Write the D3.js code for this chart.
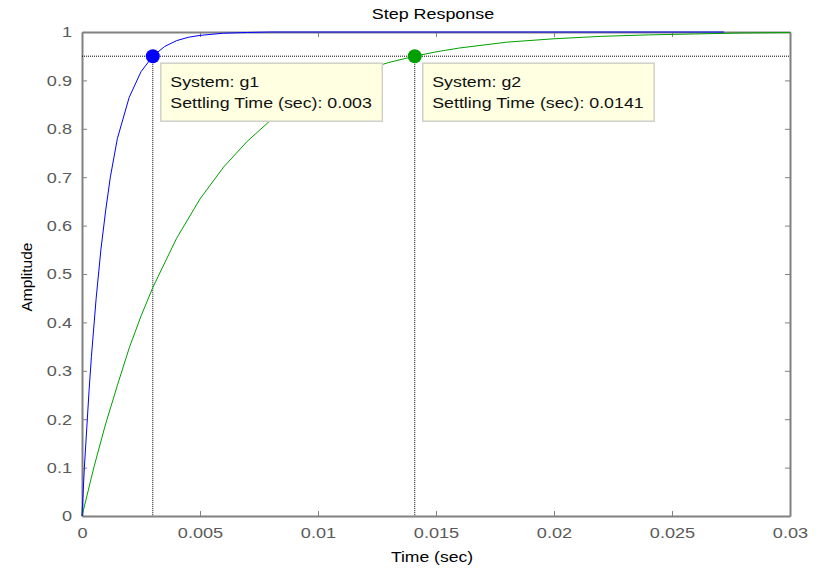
<!DOCTYPE html>
<html><head><meta charset="utf-8">
<script src="https://cdn.jsdelivr.net/npm/d3@7"></script>
<style>body{margin:0;background:#fff}svg{display:block}text{font-family:"Liberation Sans",Arial,sans-serif}</style>
</head><body><svg id="c" width="819" height="568"></svg>
<script>
const g1Time = [0,0.0001,0.0002,0.0003,0.0004,0.0006,0.0008,0.001,0.0012,0.0015,0.002,0.0025,0.003,0.0035,0.004,0.0045,0.005,0.006,0.007,0.008,0.01,0.015,0.02,0.0272];
const g1Amp  = [0,0.10,0.18,0.26,0.33,0.45,0.55,0.63,0.70,0.78,0.865,0.918,0.95,0.970,0.982,0.989,0.993,0.9975,0.999,1.0,1.0,1.0,1.0,1.0];
const g2Time = [0,0.0005,0.001,0.0015,0.002,0.0025,0.003,0.004,0.005,0.006,0.007,0.008,0.009,0.01,0.011,0.012,0.013,0.0141,0.015,0.016,0.018,0.02,0.022,0.024,0.026,0.028,0.03];
const g2Amp  = [0,0.10,0.19,0.27,0.347,0.413,0.472,0.573,0.655,0.721,0.774,0.818,0.853,0.881,0.904,0.922,0.937,0.95,0.959,0.967,0.979,0.986,0.991,0.994,0.996,0.998,0.999];
const xTicks = [0,0.005,0.01,0.015,0.02,0.025,0.03];
const xTickLabels = ["0","0.005","0.01","0.015","0.02","0.025","0.03"];
const yTicks = [0,0.1,0.2,0.3,0.4,0.5,0.6,0.7,0.8,0.9,1];
const yTickLabels = ["0","0.1","0.2","0.3","0.4","0.5","0.6","0.7","0.8","0.9","1"];
const settleLevel = 0.95;
const markers = [
  {sys:"g1", t:0.003, a:0.95, label:"Settling Time (sec): 0.003", color:"#0000ff"},
  {sys:"g2", t:0.0141, a:0.95, label:"Settling Time (sec): 0.0141", color:"#00a000"}
];

const svg = d3.select("#c");
const L=82, R=790, T=32, B=516;
const SX = 1.17;
const x = d3.scaleLinear().domain([0,0.03]).range([L,R]);
const y = d3.scaleLinear().domain([0,1]).range([B,T]);
const grey = "#808080", tickTxt = "#5a5a5a";

function stext(px, py, str, size, anchor, fill){
  return svg.append("text").attr("transform",`translate(${px},${py}) scale(${SX},1)`)
    .attr("text-anchor",anchor||"start").attr("font-size",size).attr("fill",fill||"#000").text(str);
}

// title & labels
stext(433,19,"Step Response",15.3,"middle");
stext(432,562,"Time (sec)",15,"middle");
svg.append("text").attr("transform","translate(32,277) rotate(-90)").attr("text-anchor","middle").attr("font-size",15.5).attr("fill","#000").text("Amplitude");

// axes with ticks inside
const xb = svg.append("g").attr("transform",`translate(0,${B})`)
  .call(d3.axisBottom(x).tickValues(xTicks).tickFormat((d,i)=>xTickLabels[i]).tickSizeInner(-5).tickSizeOuter(0).tickPadding(11));
const xt = svg.append("g").attr("transform",`translate(0,${T})`)
  .call(d3.axisTop(x).tickValues(xTicks).tickFormat("").tickSizeInner(-5).tickSizeOuter(0));
const yl = svg.append("g").attr("transform",`translate(${L},0)`)
  .call(d3.axisLeft(y).tickValues(yTicks).tickFormat((d,i)=>yTickLabels[i]).tickSizeInner(-5).tickSizeOuter(0).tickPadding(10));
const yr = svg.append("g").attr("transform",`translate(${R},0)`)
  .call(d3.axisRight(y).tickValues(yTicks).tickFormat("").tickSizeInner(-5).tickSizeOuter(0));
[xb,xt,yl,yr].forEach(a=>{
  a.selectAll("path.domain").attr("stroke",grey).attr("stroke-width",2);
  a.selectAll(".tick line").attr("stroke",grey);
  a.selectAll("text").attr("font-size",15.5).attr("fill",tickTxt).attr("font-family",'"Liberation Sans",Arial,sans-serif');
});
xb.selectAll(".tick text").attr("transform",`scale(${SX},1)`);
yl.selectAll(".tick text").attr("x",-10/SX).attr("transform",`scale(${SX},1)`);

// settle line
svg.append("line").attr("x1",L).attr("x2",R).attr("y1",y(settleLevel)).attr("y2",y(settleLevel))
  .attr("stroke","#000").attr("stroke-width",1).attr("stroke-dasharray","1,1");
markers.forEach(m=>{
  svg.append("line").attr("x1",x(m.t)).attr("x2",x(m.t)).attr("y1",y(m.a)).attr("y2",y(0))
    .attr("stroke","#000").attr("stroke-width",1).attr("stroke-dasharray","1,1");
});

const line = d3.line().x(d=>x(d[0])).y(d=>y(d[1]));
svg.append("path").datum(g2Time.map((t,i)=>[t,g2Amp[i]])).attr("d",line).attr("fill","none").attr("stroke","#00a000").attr("stroke-width",1);
svg.append("path").datum(g1Time.map((t,i)=>[t,g1Amp[i]])).attr("d",line).attr("fill","none").attr("stroke","#0000ff").attr("stroke-width",1);

// markers & tooltips
markers.forEach(m=>{
  svg.append("circle").attr("cx",x(m.t)).attr("cy",y(m.a)).attr("r",7).attr("fill",m.color);
  const bx = x(m.t)+8, by = y(m.a)+7;
  const rect = svg.append("rect").attr("x",bx).attr("y",by).attr("height",58)
    .attr("fill","#ffffe1").attr("stroke","#d0d0c8").attr("stroke-width",1.5);
  const t1 = stext(bx+9.5, by+24, "System: "+m.sys, 15.2, "start", "#111");
  const t2 = stext(bx+9.5, by+45, m.label, 15.2, "start", "#111");
  const w = SX*Math.max(t1.node().getComputedTextLength(), t2.node().getComputedTextLength());
  rect.attr("width",w+20);
});
</script></body></html>
